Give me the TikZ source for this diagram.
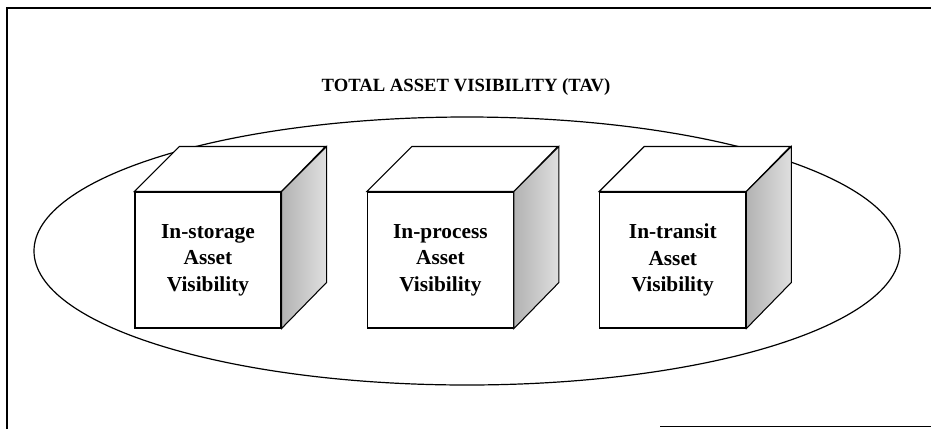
\documentclass[tikz,border=0pt]{standalone}
\usepackage{fontspec}
\setmainfont{Liberation Serif}
\usetikzlibrary{positioning}
\usetikzlibrary{shapes}
\tikzset{>=latex}

\begin{document}
\begin{tikzpicture}[
            x=0.75pt, y=-0.75pt,
            face/.style={draw, line width=0.8pt, fill=white, minimum width=109.5pt, minimum height=102pt,
                inner sep=0pt, align=center, font=\bfseries\fontsize{16}{20}\selectfont},
            side/.style={draw, line width=0.8pt, left color=gray!60, right color=gray!25},
            lid/.style={draw, line width=0.8pt, fill=white}
        ]
        \useasboundingbox (0,0) rectangle (931,429);
        % frame
        \draw[line width=1.3pt] (7,429) -- (7,8) -- (931,8);
        \coordinate (bl) at (660,426);
        \coordinate (br) at (931,426);
        \draw (bl) -- (br);
        % title
        \node[font=\bfseries\fontsize{14}{16}\selectfont] (title) at (466,87) {TOTAL ASSET VISIBILITY (TAV)};
        % ellipse
        \node[draw, line width=0.9pt, ellipse, minimum width=649.5pt, minimum height=201pt] (tav) at (467,251) {};
        % cubes
        \node[face] (storage) at (208,260) {In-storage\\Asset\\Visibility};
        \draw[lid] (storage.north west) -- ++(45,-45) -- ++(146,0) -- (storage.north east) -- cycle;
        \draw[side] (storage.north east) -- ++(45,-45) -- ++(0,136) -- (storage.south east) -- cycle;
        \node[face, right=64pt of storage] (process) {In-process\\Asset\\Visibility};
        \draw[lid] (process.north west) -- ++(45,-45) -- ++(146,0) -- (process.north east) -- cycle;
        \draw[side] (process.north east) -- ++(45,-45) -- ++(0,136) -- (process.south east) -- cycle;
        \node[face, right=64pt of process] (transit) {In-transit\\Asset\\Visibility};
        \draw[lid] (transit.north west) -- ++(45,-45) -- ++(146,0) -- (transit.north east) -- cycle;
        \draw[side] (transit.north east) -- ++(45,-45) -- ++(0,136) -- (transit.south east) -- cycle;
\end{tikzpicture}
\end{document}
